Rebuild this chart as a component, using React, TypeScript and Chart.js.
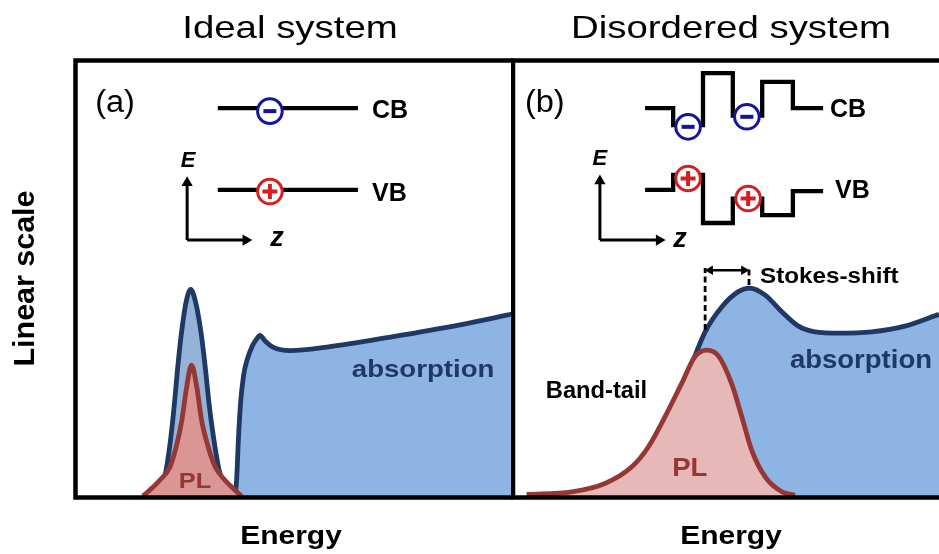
import React, { useEffect, useRef } from "react";
import { Chart, registerables } from "chart.js";

Chart.register(...registerables);

const FONT = '"Liberation Sans", Arial, Helvetica, sans-serif';
const NAVY = "#1f3864";
const DARK_RED = "#953735";
const ELECTRON_BLUE = "#1414a0";
const HOLE_RED = "#d42020";

// ---------- Panel (a): ideal system (energy 0–100, intensity 0–100) ----------
const idealExcitonE = [18.5, 19.4, 20.8, 21.9, 22.7, 23.4, 24.2, 25.3, 26.4, 27.6, 28.9, 29.8, 30.6, 31.6, 32.9, 34.6, 35.5];
const idealExcitonI = [0, 0.9, 6.2, 13.8, 21.4, 29.1, 36.7, 44.3, 47.5, 44.3, 36.7, 29.1, 21.4, 13.8, 6.2, 0.9, 0];
const idealContinuumE = [36.5, 36.9, 37.3, 37.8, 38.5, 39.3, 40.6, 41.8, 42.2, 43.4, 45.2, 49.1, 57.5, 72.6, 87.9, 100];
const idealContinuumI = [0, 3.9, 13.0, 21.5, 27.9, 31.4, 34.8, 36.6, 37.0, 35.7, 34.3, 33.5, 34.3, 36.7, 39.4, 41.9];
const idealPLE = [15.5, 17.1, 19.4, 21.7, 23.1, 24.4, 25.5, 26.6, 27.8, 28.9, 30.4, 32.0, 34.2, 36.5, 38.0];
const idealPLI = [0.2, 1.6, 3.9, 6.9, 11.5, 17.6, 25.2, 30.2, 25.2, 17.6, 11.5, 6.9, 3.9, 1.6, 0.2];

// band-edge sketch (z along x, E along y)
const idealBandZ = [32.6, 64.6];
const idealCB = [89.0, 89.0];
const idealVB = [70.3, 70.3];
const idealElectronZ = [44.5];
const idealElectronE = [88.3];
const idealHoleZ = [44.5];
const idealHoleE = [69.9];
const idealAxisUpZ = [25.6, 25.6];
const idealAxisUpE = [58.8, 71.9];
const idealAxisRightZ = [25.6, 39.0];
const idealAxisRightE = [58.8, 58.8];

// ---------- Panel (b): disordered system ----------
const disorderAbsE = [20, 27, 31, 34.5, 37.5, 40, 42.2, 45.1, 49.0, 52.9, 55.6, 59.2, 63.1, 67.0, 70.9, 76.4, 84.2, 92.0, 100];
const disorderAbsI = [0, 2.0, 6.0, 12.5, 19.5, 25.0, 31.0, 37.8, 43.5, 47.0, 47.8, 46.2, 42.4, 39.1, 37.8, 37.5, 37.8, 39.1, 41.8];
const disorderPLE = [3.2, 13.8, 21.6, 27.9, 31.8, 35.7, 39.6, 42.7, 45.5, 48.2, 51.3, 53.7, 56.0, 59.2, 63.1, 66.2];
const disorderPLI = [0.6, 1.2, 3.1, 6.9, 11.5, 18.4, 26.0, 32.1, 33.6, 32.3, 26.0, 18.4, 10.8, 4.6, 1.2, 0.4];

const disorderBandZ = [31.0, 37.6, 37.6, 44.6, 44.6, 51.6, 51.6, 58.5, 58.5, 65.7, 65.7, 72.8];
const disorderCB = [89.0, 89.0, 85.1, 85.1, 97.0, 97.0, 87.3, 87.3, 95.0, 95.0, 89.0, 89.0];
const disorderVB = [70.3, 70.3, 73.7, 73.7, 62.7, 62.7, 68.3, 68.3, 64.5, 64.5, 70.0, 70.0];
const disorderElectronZ = [41.1, 54.9];
const disorderElectronE = [84.7, 87.0];
const disorderHoleZ = [41.1, 55.2];
const disorderHoleE = [72.9, 68.3];
const disorderAxisUpZ = [20.4, 20.4];
const disorderAxisUpE = [58.8, 72.3];
const disorderAxisRightZ = [20.4, 34.3];
const disorderAxisRightE = [58.8, 58.8];

// Stokes shift marker between PL peak and absorption peak
const stokesLeftE = [45.1, 45.1];
const stokesLeftI = [38.2, 52.4];
const stokesRightE = [55.4, 55.4];
const stokesRightI = [48.5, 52.4];
const stokesArrowE = [46.3, 54.2];
const stokesArrowI = [51.9, 51.9];

type Pt = { x: number; y: number };
const zip = (xs: number[], ys: number[]): Pt[] => xs.map((x, i) => ({ x, y: ys[i] }));

function curve(label: string, xs: number[], ys: number[], fillColor: string, lineColor: string, order: number) {
  return {
    label,
    data: zip(xs, ys),
    borderColor: lineColor,
    backgroundColor: fillColor,
    borderWidth: 4.8,
    fill: "origin",
    pointRadius: 0,
    cubicInterpolationMode: "monotone",
    borderJoinStyle: "round",
    order,
  };
}

function band(label: string, xs: number[], ys: number[]) {
  return {
    label,
    data: zip(xs, ys),
    borderColor: "#000",
    borderWidth: 4.3,
    fill: false,
    pointRadius: 0,
    tension: 0,
    borderJoinStyle: "miter",
    order: 5,
  };
}

function arrow(label: string, xs: number[], ys: number[], rotation: number) {
  return {
    label,
    data: zip(xs, ys),
    borderColor: "#000",
    borderWidth: 3,
    fill: false,
    tension: 0,
    pointStyle: "triangle",
    pointRadius: [0, 6.5],
    pointRotation: [0, rotation],
    pointBackgroundColor: "#000",
    pointBorderWidth: 0,
    order: 5,
  };
}

function charges(label: string, xs: number[], ys: number[], color: string) {
  return {
    label,
    data: zip(xs, ys),
    showLine: false,
    pointStyle: "circle",
    pointRadius: 12.3,
    pointBorderWidth: 3,
    pointBackgroundColor: "#fff",
    pointBorderColor: color,
    order: 2,
  };
}

function signs(label: string, xs: number[], ys: number[], style: string, radius: number, color: string) {
  return {
    label,
    data: zip(xs, ys),
    showLine: false,
    pointStyle: style,
    pointRadius: radius,
    pointBorderWidth: 4,
    pointBorderColor: color,
    pointBackgroundColor: color,
    order: 1,
  };
}

function dashed(label: string, xs: number[], ys: number[]) {
  return {
    label,
    data: zip(xs, ys),
    borderColor: "#000",
    borderWidth: 2.8,
    borderDash: [6, 3.5],
    fill: false,
    pointRadius: 0,
    tension: 0,
    order: 5,
  };
}

function doubleArrow(label: string, xs: number[], ys: number[]) {
  return {
    label,
    data: zip(xs, ys),
    borderColor: "#000",
    borderWidth: 2.6,
    fill: false,
    tension: 0,
    pointStyle: "triangle",
    pointRadius: 5.5,
    pointRotation: [-90, 90],
    pointBackgroundColor: "#000",
    pointBorderWidth: 0,
    order: 5,
  };
}

type Label = { text: string; x: number; y: number; font: string; color?: string; align: CanvasTextAlign; sx?: number };

type Decor = {
  title: string;
  titleX: number;
  energyX: number;
  yTitle?: boolean;
  leftEdge: number;
  labels: Label[];
};

function drawText(ctx: CanvasRenderingContext2D, text: string, px: number, py: number, font: string, color: string, align: CanvasTextAlign, sx: number) {
  ctx.save();
  ctx.translate(px, py);
  ctx.scale(sx, 1);
  ctx.font = `${font} ${FONT}`;
  ctx.fillStyle = color;
  ctx.textAlign = align;
  ctx.textBaseline = "alphabetic";
  ctx.fillText(text, 0, 0);
  ctx.restore();
}

function decorPlugin(decor: Decor) {
  return {
    id: "panelDecor",
    afterDatasetsDraw(chart: any) {
      const { ctx, chartArea, scales, width } = chart;
      const top = chartArea.top + 0.5;
      const bottom = chartArea.bottom + 0.5;
      const left = decor.leftEdge;
      ctx.save();
      ctx.strokeStyle = "#000";
      ctx.lineWidth = 4.5;
      ctx.lineJoin = "miter";
      ctx.beginPath();
      ctx.moveTo(width, top);
      ctx.lineTo(left, top);
      ctx.lineTo(left, bottom);
      ctx.lineTo(width, bottom);
      ctx.stroke();
      ctx.restore();

      for (const l of decor.labels) {
        const px = scales.x.getPixelForValue(l.x);
        const py = scales.y.getPixelForValue(l.y);
        drawText(ctx, l.text, px, py, l.font, l.color || "#000", l.align, l.sx || 1);
      }

      drawText(ctx, decor.title, decor.titleX, 38, "400 32px", "#000", "center", 1.2);
      drawText(ctx, "Energy", decor.energyX, 544, "bold 25px", "#000", "center", 1.2);

      if (decor.yTitle) {
        ctx.save();
        ctx.translate(34, (chartArea.top + chartArea.bottom) / 2);
        ctx.rotate(-Math.PI / 2);
        ctx.scale(1.05, 1);
        ctx.font = `bold 29px ${FONT}`;
        ctx.fillStyle = "#000";
        ctx.textAlign = "center";
        ctx.textBaseline = "alphabetic";
        ctx.fillText("Linear scale", 0, 0);
        ctx.restore();
      }
    },
  };
}

function makeChart(canvas: HTMLCanvasElement, datasets: any[], padding: any, decor: Decor) {
  return new Chart(canvas, {
    type: "line",
    data: { datasets },
    options: {
      animation: false,
      responsive: false,
      events: [],
      layout: { padding, autoPadding: false },
      plugins: {
        legend: { display: false },
        tooltip: { enabled: false },
        filler: { drawTime: "beforeDatasetDraw" },
      },
      scales: {
        x: { type: "linear", min: 0, max: 100, display: false },
        y: { type: "linear", min: 0, max: 100, display: false },
      },
    } as any,
    plugins: [decorPlugin(decor)],
  });
}

export default function App() {
  const leftRef = useRef<HTMLCanvasElement>(null);
  const rightRef = useRef<HTMLCanvasElement>(null);

  useEffect(() => {
    if (!leftRef.current || !rightRef.current) return;

    const idealSets = [
      curve("absorption (exciton)", idealExcitonE, idealExcitonI, "#95b3d7", NAVY, 10),
      curve("absorption (continuum)", idealContinuumE, idealContinuumI, "#8eb4e3", NAVY, 9),
      curve("PL", idealPLE, idealPLI, "#d99694", DARK_RED, 8),
      band("CB", idealBandZ, idealCB),
      band("VB", idealBandZ, idealVB),
      arrow("E axis", idealAxisUpZ, idealAxisUpE, 0),
      arrow("z axis", idealAxisRightZ, idealAxisRightE, 90),
      charges("electron", idealElectronZ, idealElectronE, ELECTRON_BLUE),
      charges("hole", idealHoleZ, idealHoleE, HOLE_RED),
      signs("electron sign", idealElectronZ, idealElectronE, "line", 6.5, ELECTRON_BLUE),
      signs("hole sign", idealHoleZ, idealHoleE, "cross", 7.5, HOLE_RED),
    ];

    const disorderSets = [
      curve("absorption", disorderAbsE, disorderAbsI, "#8eb4e3", NAVY, 10),
      curve("PL", disorderPLE, disorderPLI, "#e6b9b8", DARK_RED, 8),
      band("CB", disorderBandZ, disorderCB),
      band("VB", disorderBandZ, disorderVB),
      arrow("E axis", disorderAxisUpZ, disorderAxisUpE, 0),
      arrow("z axis", disorderAxisRightZ, disorderAxisRightE, 90),
      dashed("PL peak", stokesLeftE, stokesLeftI),
      dashed("absorption peak", stokesRightE, stokesRightI),
      doubleArrow("Stokes shift", stokesArrowE, stokesArrowI),
      charges("electron", disorderElectronZ, disorderElectronE, ELECTRON_BLUE),
      charges("hole", disorderHoleZ, disorderHoleE, HOLE_RED),
      signs("electron sign", disorderElectronZ, disorderElectronE, "line", 6.5, ELECTRON_BLUE),
      signs("hole sign", disorderHoleZ, disorderHoleE, "cross", 7.5, HOLE_RED),
    ];

    const left = makeChart(leftRef.current, idealSets, { left: 75, top: 60, right: 0, bottom: 57 }, {
      title: "Ideal system",
      titleX: 290,
      energyX: 291,
      yTitle: true,
      leftEdge: 75.5,
      labels: [
        { text: "(a)", x: 4.6, y: 88.1, font: "400 31px", align: "left", sx: 1.05 },
        { text: "CB", x: 67.8, y: 86.7, font: "bold 25px", align: "left" },
        { text: "VB", x: 67.8, y: 67.8, font: "bold 25px", align: "left" },
        { text: "E", x: 25.8, y: 75.5, font: "italic bold 22px", align: "center" },
        { text: "z", x: 46.1, y: 57.4, font: "italic bold 27px", align: "center" },
        { text: "absorption", x: 63.2, y: 27.5, font: "bold 24px", color: NAVY, align: "left", sx: 1.15 },
        { text: "PL", x: 27.4, y: 2.1, font: "bold 22px", color: DARK_RED, align: "center", sx: 1.15 },
      ],
    });

    const right = makeChart(rightRef.current, disorderSets, { left: 2, top: 60, right: 0, bottom: 57 }, {
      title: "Disordered system",
      titleX: 220,
      energyX: 220,
      leftEdge: 2,
      labels: [
        { text: "(b)", x: 2.8, y: 88.2, font: "400 31px", align: "left", sx: 1.05 },
        { text: "CB", x: 74.4, y: 87.0, font: "bold 25px", align: "left" },
        { text: "VB", x: 75.6, y: 68.4, font: "bold 25px", align: "left" },
        { text: "E", x: 20.4, y: 76.0, font: "italic bold 22px", align: "center" },
        { text: "z", x: 39.2, y: 57.3, font: "italic bold 27px", align: "center" },
        { text: "Stokes-shift", x: 58.0, y: 48.9, font: "bold 22px", align: "left", sx: 1.1 },
        { text: "Band-tail", x: 7.7, y: 22.6, font: "bold 23px", align: "left", sx: 1.03 },
        { text: "absorption", x: 65.0, y: 29.5, font: "bold 25px", color: NAVY, align: "left", sx: 1.1 },
        { text: "PL", x: 41.5, y: 4.8, font: "bold 25px", color: DARK_RED, align: "center", sx: 1.1 },
      ],
    });

    return () => {
      left.destroy();
      right.destroy();
    };
  }, []);

  return (
    <div style={{ position: "absolute", left: 0, top: 0, width: 939, height: 554, background: "#fff", overflow: "hidden" }}>
      <canvas ref={leftRef} width={513} height={554} style={{ position: "absolute", left: 0, top: 0 }} />
      <canvas ref={rightRef} width={428} height={554} style={{ position: "absolute", left: 511, top: 0 }} />
    </div>
  );
}
